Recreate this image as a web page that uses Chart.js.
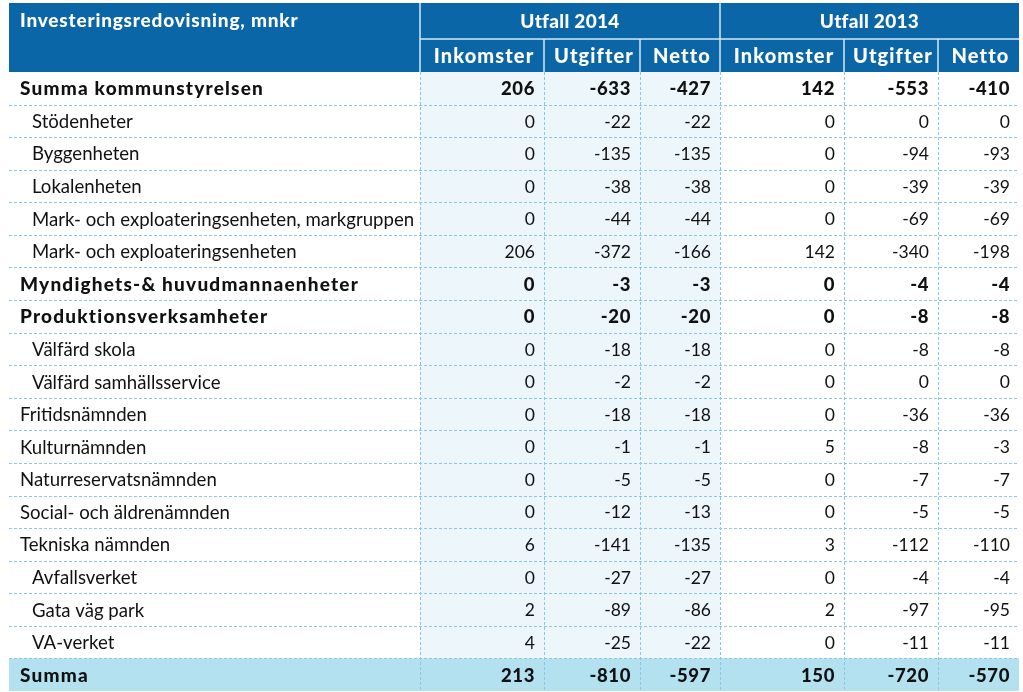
<!DOCTYPE html>
<html>
<head>
<meta charset="utf-8">
<script src="https://cdn.jsdelivr.net/npm/chart.js@4.4.0/dist/chart.umd.min.js"></script>
<style>
  html, body { margin: 0; padding: 0; background: #fff; }
  #wrap { width: 1023px; height: 692px; position: relative; }
</style>
</head>
<body>
<div id="wrap"><canvas id="tbl"></canvas></div>
<script>
// table content
var title = 'Investeringsredovisning, mnkr';
var yearLabels = ['Utfall 2014', 'Utfall 2013'];
var measureLabels = ['Inkomster', 'Utgifter', 'Netto'];

var rows = [
  'Summa kommunstyrelsen',
  'Stödenheter',
  'Byggenheten',
  'Lokalenheten',
  'Mark- och exploateringsenheten, markgruppen',
  'Mark- och exploateringsenheten',
  'Myndighets-& huvudmannaenheter',
  'Produktionsverksamheter',
  'Välfärd skola',
  'Välfärd samhällsservice',
  'Fritidsnämnden',
  'Kulturnämnden',
  'Naturreservatsnämnden',
  'Social- och äldrenämnden',
  'Tekniska nämnden',
  'Avfallsverket',
  'Gata väg park',
  'VA-verket',
  'Summa'
];
// hierarchy: group = bold heading, sub = child row, plain = own row, total = sum row
var rowLevel = ['group', 'sub', 'sub', 'sub', 'sub', 'sub', 'group', 'group', 'sub', 'sub',
                'plain', 'plain', 'plain', 'plain', 'plain', 'sub', 'sub', 'sub', 'total'];

var ink2014 = [206, 0, 0, 0, 0, 206, 0, 0, 0, 0, 0, 0, 0, 0, 6, 0, 2, 4, 213];
var utg2014 = [-633, -22, -135, -38, -44, -372, -3, -20, -18, -2, -18, -1, -5, -12, -141, -27, -89, -25, -810];
var net2014 = [-427, -22, -135, -38, -44, -166, -3, -20, -18, -2, -18, -1, -5, -13, -135, -27, -86, -22, -597];
var ink2013 = [142, 0, 0, 0, 0, 142, 0, 0, 0, 0, 0, 5, 0, 0, 3, 0, 2, 0, 150];
var utg2013 = [-553, 0, -94, -39, -69, -340, -4, -8, -8, 0, -36, -8, -7, -5, -112, -4, -97, -11, -720];
var net2013 = [-410, 0, -93, -39, -69, -198, -4, -8, -8, 0, -36, -3, -7, -5, -110, -4, -95, -11, -570];

var series = [ink2014, utg2014, net2014, ink2013, utg2013, net2013];

// layout (x scale units): column edges, label column first
var colEdges = [9, 420, 544, 640, 720, 844, 938, 1019];
var headTop = 3, headMid = 39, headBottom = 72;

var FONT = 'Lato, "Open Sans", sans-serif';
var headBlue = '#0a66a6';
var gridBlue = '#8cc6e0';
var colShade = '#edf6fb';
var sumShade = '#b4e1f0';
var ink = '#111111';

var datasets = series.map(function (vals, c) {
  return {
    label: measureLabels[c % 3] + ' ' + yearLabels[Math.floor(c / 3)],
    data: vals.map(function (v, i) { return { x: colEdges[c + 2], y: i }; }),
    pointRadius: 0,
    showLine: false
  };
});

function isBold(i) {
  return rowLevel[i] === 'group' || rowLevel[i] === 'total';
}

var tablePlugin = {
  id: 'tablePlugin',
  beforeDatasetsDraw: function (chart) {
    var ctx = chart.ctx;
    var xs = chart.scales.x, ys = chart.scales.y;
    var X = function (v) { return xs.getPixelForValue(v); };
    var area = chart.chartArea;
    var rowH = (area.bottom - area.top) / rows.length;
    var rowTop = function (i) { return ys.getPixelForValue(i) - rowH / 2; };
    var left = X(colEdges[0]), right = X(colEdges[colEdges.length - 1]);

    ctx.save();
    ctx.fillStyle = '#fff';
    ctx.fillRect(0, 0, chart.width, chart.height);

    // header band
    ctx.fillStyle = headBlue;
    ctx.fillRect(left, headTop, right - left, headBottom - headTop);
    ctx.strokeStyle = '#d6e9f5';
    ctx.lineWidth = 1.5;
    ctx.beginPath();
    [1, 4].forEach(function (k) {
      ctx.moveTo(X(colEdges[k]), headTop);
      ctx.lineTo(X(colEdges[k]), headBottom);
    });
    ctx.moveTo(X(colEdges[1]), headMid);
    ctx.lineTo(right, headMid);
    [2, 3, 5, 6].forEach(function (k) {
      ctx.moveTo(X(colEdges[k]), headMid);
      ctx.lineTo(X(colEdges[k]), headBottom);
    });
    ctx.stroke();

    // header text
    ctx.fillStyle = '#ffffff';
    ctx.textBaseline = 'middle';
    ctx.font = '900 19px ' + FONT;
    ctx.letterSpacing = '0.8px';
    ctx.textAlign = 'left';
    ctx.fillText(title, left + 11, (headTop + headMid) / 2);
    ctx.letterSpacing = '0.3px';
    ctx.textAlign = 'center';
    yearLabels.forEach(function (lab, g) {
      ctx.fillText(lab, (X(colEdges[1 + g * 3]) + X(colEdges[4 + g * 3])) / 2, (headTop + headMid) / 2 + 1);
    });
    ctx.font = '900 20px ' + FONT;
    ctx.letterSpacing = '1.1px';
    for (var c = 0; c < 6; c++) {
      ctx.fillText(measureLabels[c % 3], (X(colEdges[c + 1]) + X(colEdges[c + 2])) / 2 + 2, (headMid + headBottom) / 2 + 1);
    }
    ctx.letterSpacing = '0px';

    // shading: 2014 columns and the total row
    var last = rows.length - 1;
    ctx.fillStyle = colShade;
    ctx.fillRect(X(colEdges[1]), area.top, X(colEdges[4]) - X(colEdges[1]), rowTop(last) - area.top);
    ctx.fillStyle = sumShade;
    ctx.fillRect(left, rowTop(last), right - left, rowH);

    // dashed grid
    ctx.strokeStyle = gridBlue;
    ctx.lineWidth = 1;
    ctx.setLineDash([3, 2]);
    ctx.beginPath();
    for (var i = 1; i < rows.length; i++) {
      var y = Math.round(rowTop(i)) + 0.5;
      ctx.moveTo(left, y);
      ctx.lineTo(right, y);
    }
    for (var k = 1; k < colEdges.length - 1; k++) {
      var x = Math.round(X(colEdges[k])) + 0.5;
      ctx.moveTo(x, area.top);
      ctx.lineTo(x, area.bottom);
    }
    ctx.stroke();
    ctx.restore();
  },
  afterDatasetsDraw: function (chart) {
    var ctx = chart.ctx;
    var xs = chart.scales.x, ys = chart.scales.y;
    ctx.save();
    ctx.fillStyle = ink;
    ctx.textBaseline = 'middle';

    // row labels
    ctx.textAlign = 'left';
    rows.forEach(function (lab, i) {
      if (isBold(i)) {
        ctx.font = '900 19px ' + FONT;
        ctx.letterSpacing = '1.2px';
      } else {
        ctx.font = '18.6px ' + FONT;
        ctx.letterSpacing = '0px';
      }
      var x = xs.getPixelForValue(colEdges[0]) + (rowLevel[i] === 'sub' ? 23 : 11);
      ctx.fillText(lab, x, ys.getPixelForValue(i) + 1);
    });

    // values
    ctx.textAlign = 'right';
    chart.data.datasets.forEach(function (ds, d) {
      var meta = chart.getDatasetMeta(d);
      meta.data.forEach(function (pt, i) {
        if (isBold(i)) {
          ctx.font = '900 18.5px ' + FONT;
          ctx.letterSpacing = '0.6px';
        } else {
          ctx.font = '17.5px ' + FONT;
          ctx.letterSpacing = '0px';
        }
        ctx.fillText(String(series[d][i]), pt.x - 9, pt.y + 1);
      });
    });
    ctx.restore();
  }
};

new Chart(document.getElementById('tbl'), {
  type: 'scatter',
  data: { datasets: datasets },
  options: {
    responsive: true,
    maintainAspectRatio: false,
    animation: false,
    events: [],
    layout: { padding: { top: headBottom, left: 0, right: 0, bottom: 1 } },
    plugins: { legend: { display: false }, tooltip: { enabled: false } },
    scales: {
      x: { type: 'linear', display: false, min: 0, max: 1023 },
      y: { type: 'category', labels: rows, offset: true, display: false }
    }
  },
  plugins: [tablePlugin]
});
</script>
</body>
</html>
